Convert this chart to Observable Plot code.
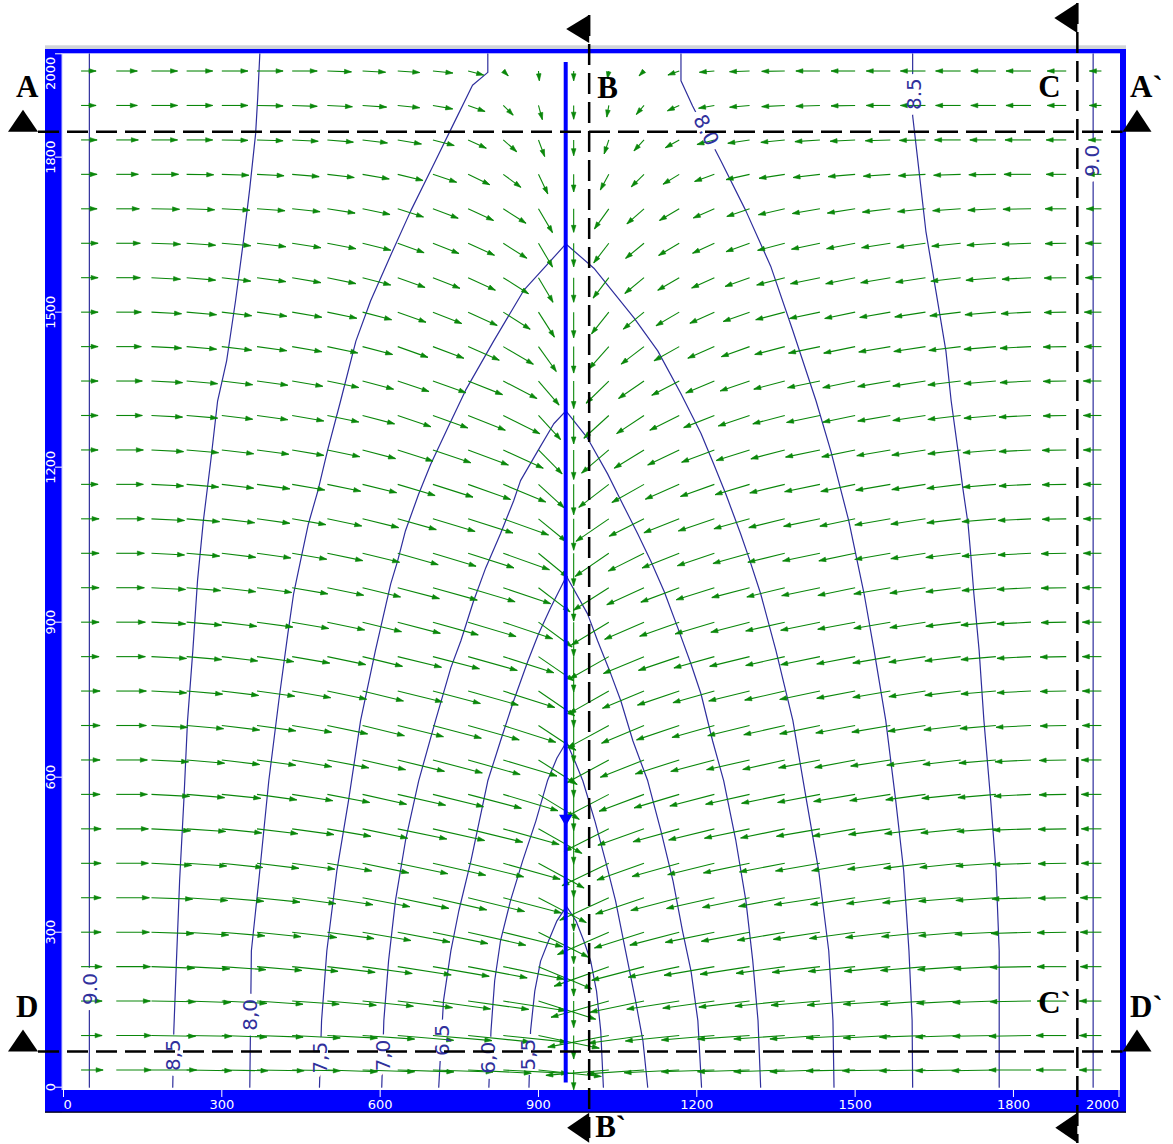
<!DOCTYPE html>
<html><head><meta charset="utf-8">
<script src="https://cdn.jsdelivr.net/npm/d3@7"></script>
<script src="https://cdn.jsdelivr.net/npm/@observablehq/plot@0.6"></script>
<style>
html,body{margin:0;padding:0;background:#fff;}
#chart{position:relative;width:1173px;height:1144px;overflow:hidden;}
#chart svg{position:absolute;left:0;top:0;}
</style></head><body><div id="chart"></div>
<script>
// ---------------- data (model coordinates, metres) ----------------
const xTicks = [0, 300, 600, 900, 1200, 1500, 1800, 2000];
const yTicks = [0, 300, 600, 900, 1200, 1500, 1800, 2000];

// drain (blue line) and cross-section lines
const drainX = 951.6, drainBottom = 8, drainTop = 1983;
const drainMarkY = 520;
const sectionAY = 1848, sectionDY = 68;   // A–A`, D–D`
const sectionBX = 997, sectionCX = 1922;  // B–B`, C–C`

// velocity grid: column centres (x) and row centres (y, top to bottom)
const gridX = [33.3,100,166.7,233.3,300,366.7,433.3,500,566.7,633.3,700,766.7,833.3,900,966.7,
               1033.3,1100,1166.7,1233.3,1300,1366.7,1433.3,1500,1566.7,1633.3,1700,1766.7,1833.3,1900,1966.7];
const gridY = [1966.7,1900,1833.3,1766.7,1700,1633.3,1566.7,1500,1433.3,1366.7,1300,1233.3,1166.7,1100,1033.3,
               966.7,900,833.3,766.7,700,633.3,566.7,500,433.3,366.7,300,233.3,166.7,100,33.3];

// flow direction: degrees below the horizontal (towards the drain), one row per gridY
const angleRows = [
"0 0 0 0 0 0 0 2 3 4 6 15 45 85 90 80 45 20 5 2 1 0 0 0 0 0 0 0 0 0",
"0 0 0 0 0 1 2 3 4 6 10 20 45 75 90 80 50 25 10 5 3 2 1 0 0 0 0 0 0 0",
"0 0 0 0 1 2 3 5 7 10 15 25 42 70 90 72 48 30 15 9 6 4 3 2 1 0 0 0 0 0",
"0 0 0 1 2 3 5 7 10 14 19 26 37 65 90 62 45 32 20 13 9 7 5 4 3 2 1 0 0 0",
"0 0 1 2 3 4 6 9 12 18 21 25 33 60 90 55 42 31 24 19 13 10 9 7 6 4 3 1 0 0",
"0 0 2 4 5 7 9 11 14 20 22 25 33 60 90 53 40 31 25 20 15 12 11 9 8 6 4 2 1 0",
"0 0 3 5 7 8 10 12 15 20 22 25 33 60 90 53 40 31 25 20 15 12 12 10 9 7 5 3 1 0",
"0 0 3 5 7 8 10 12 15 20 22 25 33 58 90 52 40 31 25 20 15 12 12 10 9 7 5 3 1 0",
"0 0 3 5 7 8 10 12 15 20 21 24 31 55 90 49 38 30 24 20 15 12 12 10 9 7 5 3 1 0",
"0 0 3 5 7 8 10 12 15 19 20 22 28 50 90 45 35 28 23 19 15 12 12 10 9 7 5 3 1 0",
"0 0 3 5 7 8 10 12 15 19 20 22 27 48 90 43 34 27 22 19 15 12 12 10 9 7 5 3 1 0",
"0 0 3 5 7 8 10 12 15 18 19 21 25 46 90 41 32 26 21 18 15 12 12 10 9 7 5 3 1 0",
"0 0 3 5 7 8 10 12 14 17 18 20 23 43 90 38 30 24 20 17 14 12 12 10 9 7 5 3 1 0",
"0 0 3 5 7 8 10 12 14 16 17 18 20 40 90 35 27 22 19 16 14 12 12 10 9 7 5 3 1 0",
"0 0 3 5 7 8 10 12 14 16 17 18 20 40 90 35 27 22 19 16 14 12 12 10 9 7 5 3 1 0",
"0 0 3 5 7 8 10 12 14 15 16 17 19 38 90 33 25 21 18 15 14 12 12 10 9 7 5 3 1 0",
"0 0 3 5 7 8 10 12 14 15 16 17 19 37 90 32 24 20 17 15 13 12 11 10 9 7 5 3 1 0",
"0 0 3 5 7 8 10 12 14 14 15 16 18 35 90 30 23 19 16 14 13 12 11 10 9 7 5 3 1 0",
"0 0 3 5 7 8 10 12 14 14 15 16 18 35 90 30 23 19 16 14 13 12 11 10 9 7 5 3 1 0",
"0 0 3 5 7 8 10 12 14 14 15 16 18 34 90 29 23 19 16 14 13 12 11 10 9 7 5 3 1 0",
"0 0 3 5 7 8 10 11 13 14 15 16 17 33 90 29 22 18 15 13 13 11 11 9 8 7 5 3 1 0",
"0 0 3 5 6 8 9 11 13 13 14 15 17 32 90 28 21 17 15 13 12 11 10 9 8 6 5 3 1 0",
"0 0 3 4 6 7 8 10 12 12 13 14 16 30 90 27 20 16 14 12 12 10 10 8 7 6 4 2 1 0",
"0 0 3 4 6 7 8 10 12 12 13 14 16 29 90 26 20 16 14 12 11 10 10 8 7 6 4 2 1 0",
"0 0 2 4 5 6 8 9 11 12 13 14 15 28 90 25 19 15 13 12 11 9 9 8 7 5 4 2 1 0",
"0 0 2 4 5 6 7 8 10 11 12 13 14 27 90 24 18 15 12 11 10 9 8 7 6 5 3 2 1 0",
"0 0 2 3 4 5 6 7 8 9 10 11 12 23 90 20 15 12 10 9 8 7 6 6 5 4 3 1 0 0",
"0 0 1 2 3 4 4 5 6 7 8 8 9 18 90 16 12 9 8 7 6 5 5 4 4 3 2 1 0 0",
"0 0 1 1 2 2 3 3 4 5 5 6 6 12 90 11 8 6 5 4 4 4 3 3 2 2 1 1 0 0",
"0 0 0 1 1 1 1 2 2 2 2 3 3 6 90 5 4 3 2 2 2 2 1 1 1 1 1 0 0 0"
];
// flow speed (arrow length units), one row per gridY
const speedRows = [
"15 21 26 26 26 26 25 24 23 22 20 16 7 10 10 8 7 12 15 20 23 24 24 24 25 25 25 25 19 12",
"15 21 26 26 26 26 25 25 24 22 20 18 14 15 14 12 12 13 16 20 23 24 24 24 25 25 25 25 19 12",
"16 22 26 26 26 26 26 26 25 24 22 20 18 18 16 15 15 16 18 22 24 25 25 25 26 26 26 26 20 13",
"16 22 27 27 27 27 27 27 27 26 25 24 22 22 18 18 18 19 21 24 26 27 27 27 27 27 27 27 20 14",
"16 23 28 28 28 28 28 28 28 27 27 28 27 28 24 25 23 23 23 24 27 28 28 28 28 28 28 28 21 15",
"17 24 29 29 29 29 29 29 29 28 28 29 28 28 24 25 24 24 24 25 28 29 29 29 29 29 29 29 21 16",
"17 24 29 29 29 29 29 29 29 29 29 30 30 29 25 26 25 25 25 26 29 30 30 30 30 30 30 29 22 16",
"17 25 30 30 30 30 30 30 30 30 31 32 32 30 26 28 27 27 27 28 30 31 31 31 31 31 31 30 22 17",
"17 25 30 30 30 30 30 31 31 32 33 34 35 31 27 30 29 29 29 30 31 32 32 32 32 32 32 31 23 17",
"17 26 31 31 31 31 31 32 32 33 35 37 38 32 28 32 31 31 31 31 32 33 33 33 33 33 32 31 23 18",
"17 26 31 31 31 31 32 32 33 35 37 40 41 33 29 34 33 33 33 33 33 34 33 33 33 33 32 32 23 18",
"17 27 32 32 32 32 32 33 34 37 40 43 44 34 30 36 35 35 35 35 35 35 34 34 34 33 33 32 24 18",
"17 27 32 32 32 33 33 34 35 39 42 45 46 35 31 38 37 37 36 36 36 36 35 35 34 34 33 32 24 18",
"18 28 33 33 33 33 34 35 37 40 44 47 48 36 32 40 39 38 38 37 37 37 36 36 35 34 34 33 24 18",
"18 28 33 33 34 34 35 36 38 42 45 48 49 38 33 41 40 40 39 38 38 38 37 36 35 35 34 33 25 18",
"18 28 34 34 34 35 36 37 39 43 46 49 50 40 34 42 41 41 40 39 39 39 38 37 36 35 34 34 25 19",
"18 29 34 35 35 36 37 38 40 44 47 50 52 42 35 44 43 42 41 40 40 40 38 37 36 35 35 34 25 19",
"18 29 35 35 36 37 38 39 41 45 48 51 53 43 36 45 44 43 42 41 40 40 39 38 37 36 35 34 26 19",
"19 30 35 36 37 38 39 40 42 46 49 52 54 44 37 46 45 44 43 42 41 41 39 38 37 36 35 34 26 19",
"19 30 36 37 38 39 40 41 43 47 50 53 55 45 38 47 46 45 44 43 42 41 40 39 38 37 36 35 26 19",
"19 31 37 38 38 39 40 42 44 48 51 54 56 46 38 48 47 46 45 44 43 42 41 40 39 38 37 36 27 20",
"19 31 38 38 39 40 41 43 45 49 52 55 57 48 37 49 48 47 46 45 44 43 42 41 40 39 38 37 27 20",
"20 32 39 39 40 41 42 44 46 50 53 56 58 50 36 50 49 48 47 46 45 44 43 42 41 40 39 38 28 20",
"20 32 40 40 41 42 43 45 47 51 54 57 59 52 35 52 50 49 48 47 46 45 44 43 42 41 40 38 28 20",
"20 33 41 41 42 43 44 46 48 52 55 58 60 54 34 54 51 50 49 48 47 46 45 44 43 42 40 39 28 21",
"20 33 42 42 43 44 45 47 49 53 56 59 61 56 32 56 52 51 50 49 48 47 46 45 44 42 41 40 29 21",
"21 34 43 43 44 45 46 48 50 54 57 60 62 58 30 58 54 52 51 50 49 48 47 46 45 43 42 41 29 21",
"21 34 44 44 45 46 47 49 51 55 58 61 63 60 27 60 55 53 52 51 50 49 48 47 45 44 43 41 29 22",
"21 35 44 45 45 46 48 50 52 56 59 62 64 62 24 62 56 54 53 52 51 50 49 47 46 45 43 42 30 22",
"22 35 45 45 46 47 48 50 52 56 60 63 65 63 20 63 57 55 53 52 51 50 49 48 46 45 44 42 30 22"
];

const c90West = [[49,0],[49,2000]];
const c85West = [[207,0],[209,109],[214,244],[220,399],[228,554],[235,709],[245,844],[254,981],[265,1096],[279,1212],[292,1328],[309,1405],[326,1522],[341,1638],[353,1740],[364,1845],[368,1915],[372,2000]];
const c80West = [[353,0],[356,264],[370,399],[389,593],[408,748],[425,877],[436,955],[449,1018],[464,1090],[482,1154],[500,1231],[525,1328],[554,1444],[582,1522],[620,1610],[658,1696],[700,1783],[737,1860],[775,1939],[804,1964],[804,2000]];
const c75 = [[485,0],[489,129],[499,264],[518,419],[540,554],[563,710],[591,845],[620,974],[633,1018],[648,1077],[673,1148],[696,1206],[728,1276],[762,1349],[815,1444],[872,1542],[952,1632],[1005,1585],[1081,1489],[1126,1425],[1170,1342],[1208,1265],[1232,1206],[1255,1148],[1283,1071],[1299,1024],[1321,955],[1350,845],[1382,710],[1408,554],[1431,419],[1450,264],[1458,129],[1460,0]];
const c70 = [[603,0],[607,129],[616,245],[629,361],[648,477],[673,593],[705,710],[734,812],[753,864],[777,941],[800,1005],[828,1071],[853,1135],[866,1174],[899,1232],[929,1284],[952,1309],[993,1256],[1031,1187],[1050,1148],[1088,1071],[1113,1018],[1138,960],[1164,889],[1189,819],[1208,761],[1230,670],[1251,593],[1274,477],[1293,361],[1306,245],[1316,129],[1321,0]];
const c65 = [[711,0],[720,167],[734,264],[749,341],[772,438],[804,593],[828,670],[853,748],[880,825],[900,877],[923,928],[953,989],[993,916],[1012,864],[1037,800],[1056,748],[1079,670],[1107,593],[1132,496],[1155,399],[1173,302],[1189,225],[1202,129],[1209,0]];
const c60 = [[806,0],[810,109],[817,206],[828,283],[847,361],[870,438],[895,515],[917,593],[935,637],[953,668],[969,631],[984,593],[1007,515],[1027,438],[1046,361],[1065,264],[1084,167],[1098,89],[1107,0]];
const c55 = [[882,0],[885,109],[893,186],[904,244],[919,283],[935,322],[953,350],[971,322],[986,283],[999,244],[1010,186],[1018,109],[1023,0]];
const c80East = [[1170,2000],[1170,1948],[1192,1899],[1246,1792],[1293,1696],[1340,1589],[1382,1464],[1426,1328],[1454,1231],[1488,1096],[1517,955],[1536,845],[1558,710],[1577,554],[1592,419],[1602,264],[1608,129],[1609,0]];
const c85East = [[1609,2000],[1609,1880],[1621,1774],[1634,1657],[1653,1541],[1672,1425],[1682,1328],[1695,1231],[1704,1160],[1714,1090],[1719,1032],[1725,955],[1735,845],[1744,710],[1757,554],[1767,419],[1773,264],[1773,0]];
const c90East = [[1951,0],[1951,2000]];

const contourLabelText = ["9.0","8,5","8,0","7,5","7,0","6,5","6,0","5,5","8.5","9.0","8.0"];
const contourLabelX    = [51, 209, 355, 487, 607, 719, 805, 882, 1612, 1950, 1217];
const contourLabelY    = [190, 62, 140, 57, 61, 91, 57, 63, 1922, 1793, 1852];
const contourLabelAngle= [-90,-90,-90,-90,-90,-90,-90,-90,-90,-90,63];

// ---------------- build tables ----------------
const contours = [c90West,c85West,c80West,c75,c70,c65,c60,c55,c80East,c85East,c90East]
  .map((pts, i) => pts.map(p => ({id: i, x: p[0], y: p[1]}))).flat();
const contourLabels = contourLabelText.map((t, i) => ({text: t, x: contourLabelX[i], y: contourLabelY[i], rotate: contourLabelAngle[i]}));

const vecScale = 1.9; // model metres per speed unit
const arrows = [];
gridY.forEach((y, r) => {
  const ang = angleRows[r].trim().split(/\s+/).map(Number);
  const spd = speedRows[r].trim().split(/\s+/).map(Number);
  gridX.forEach((x, c) => {
    if (!(spd[c] > 0)) return;
    const a = ang[c] * Math.PI / 180;
    const dir = x < drainX ? 1 : -1;
    const vx = ang[c] === 90 ? 0 : dir * Math.cos(a) * spd[c];
    const vy = -Math.sin(a) * spd[c];
    arrows.push({x1: x, y1: y, x2: x + vx * vecScale, y2: y + vy * vecScale,
                 heading: Math.atan2(vx, vy) * 180 / Math.PI});
  });
});

// arrow-head glyph: tip at the origin, pointing up (rotated per arrow)
const headSymbol = {draw(ctx) { ctx.moveTo(0, 0); ctx.lineTo(-2.3, 7); ctx.lineTo(2.3, 7); ctx.closePath(); }};

// ---------------- chart ----------------
const W = 1173, H = 1144;
const navy = "#2e2e9c", green = "#0a870a", blue = "#0000ff";
const labelFont = "DejaVu Sans";
const fmt = d => String(d);

const plot = Plot.plot({
  width: W, height: H,
  marginLeft: 63, marginRight: 54.5, marginTop: 53.3, marginBottom: 57.3,
  x: {domain: [0, 2000]},
  y: {domain: [0, 2000]},
  style: {background: "transparent", overflow: "visible"},
  marks: [
    Plot.line(contours, {x: "x", y: "y", z: "id", stroke: navy, strokeWidth: 1.2}),
    Plot.text(contourLabels, {x: "x", y: "y", text: "text", rotate: "rotate", fill: "white", stroke: "white", strokeWidth: 13,
      strokeLinejoin: "round", fontSize: 20, fontFamily: labelFont, textAnchor: "middle", lineAnchor: "middle"}),
    Plot.link(arrows, {x1: "x1", y1: "y1", x2: "x2", y2: "y2", stroke: green, strokeWidth: 1.1}),
    Plot.dot(arrows, {x: "x2", y: "y2", rotate: "heading", symbol: headSymbol, fill: green, stroke: green, strokeWidth: 0.6}),
    Plot.text(contourLabels, {x: "x", y: "y", text: "text", rotate: "rotate", fill: "#30309c",
      fontSize: 20, fontFamily: labelFont, textAnchor: "middle", lineAnchor: "middle"}),
    Plot.ruleX([drainX], {y1: drainBottom, y2: drainTop, stroke: blue, strokeWidth: 4}),
    Plot.dot([drainMarkY], {x: () => drainX, y: d => d, symbol: "triangle", rotate: 180, r: 4, fill: blue, stroke: blue}),
    // axes
    Plot.axisX({ticks: xTicks.slice(1, -1), tickFormat: fmt, anchor: "bottom", tickSize: 7, tickPadding: 2, dy: 3.3, color: "white",
      fontSize: 13, fontFamily: "DejaVu Sans", label: null}),
    Plot.axisX({ticks: [xTicks[0]], tickFormat: fmt, anchor: "bottom", tickSize: 7, tickPadding: 2, dy: 3.3, color: "white",
      fontSize: 13, fontFamily: "DejaVu Sans", textAnchor: "start", label: null}),
    Plot.axisX({ticks: [xTicks[xTicks.length - 1]], tickFormat: fmt, anchor: "bottom", tickSize: 7, tickPadding: 2, dy: 3.3, color: "white",
      fontSize: 13, fontFamily: "DejaVu Sans", textAnchor: "end", label: null}),
    Plot.axisY({ticks: yTicks, anchor: "left", tickSize: 7, dx: -1, color: "white", tickFormat: () => "", label: null}),
    Plot.text(yTicks.slice(0, -1), {y: d => d, text: fmt, frameAnchor: "left", dx: -13, rotate: -90,
      fill: "white", fontSize: 13, fontFamily: "DejaVu Sans", textAnchor: "middle", lineAnchor: "middle"}),
    Plot.text(yTicks.slice(-1), {y: d => d, text: fmt, frameAnchor: "left", dx: -13, dy: 3, rotate: -90,
      fill: "white", fontSize: 13, fontFamily: "DejaVu Sans", textAnchor: "end", lineAnchor: "middle"})
  ]
});

document.getElementById("chart").appendChild(plot);

// ---------------- frame bars, section lines ----------------
const svg = d3.select(plot);
const sx = plot.scale("x"), sy = plot.scale("y");
const X = v => sx.apply(v), Y = v => sy.apply(v);
const L = X(0), R = X(2000), T = Y(2000), B = Y(0);

const bars = svg.insert("g", ":first-child");
bars.append("rect").attr("x", L - 18).attr("y", T - 8).attr("width", R + 7.5 - (L - 18)).attr("height", 4).attr("fill", "#cfd3d9");
bars.append("rect").attr("x", L - 18).attr("y", T - 4.3).attr("width", R + 7.5 - (L - 18)).attr("height", 4.3).attr("fill", blue);
bars.append("rect").attr("x", L - 18).attr("y", T - 4.3).attr("width", 17).attr("height", B + 25.5 - (T - 4.3)).attr("fill", blue);
bars.append("rect").attr("x", R + 1.5).attr("y", T - 4.3).attr("width", 6).attr("height", B + 25.5 - (T - 4.3)).attr("fill", blue);
bars.append("rect").attr("x", L - 18).attr("y", B + 3.3).attr("width", R + 7.5 - (L - 18)).attr("height", 22.2).attr("fill", blue);
bars.append("line").attr("x1", L - 1).attr("x2", L - 1).attr("y1", T).attr("y2", B + 3.3).attr("stroke", "#c8c8ff").attr("stroke-width", 1);
bars.append("line").attr("x1", L - 18).attr("x2", R + 7.5).attr("y1", B + 25.5).attr("y2", B + 25.5).attr("stroke", "#000").attr("stroke-width", 1.2);

const sec = svg.append("g").attr("text-anchor", "start");
const dash = "21,8";
// horizontal sections
[[sectionAY, "A", "A`"], [sectionDY, "D", "D`"]].forEach(([v, a, b]) => {
  const yy = Y(v);
  sec.append("line").attr("x1", L - 25).attr("x2", R + 4).attr("y1", yy).attr("y2", yy)
    .attr("stroke", "#000").attr("stroke-width", 2.5).attr("stroke-dasharray", dash);
  sec.append("path").attr("d", `M${L - 55},${yy}L${L - 25},${yy}L${L - 40},${yy - 22}Z`).attr("fill", "#000");
  sec.append("path").attr("d", `M${R + 4},${yy}L${R + 33},${yy}L${R + 18.5},${yy - 22}Z`).attr("fill", "#000");
  sec.append("text").attr("x", L - 47).attr("y", yy - 35).text(a);
  sec.append("text").attr("x", R + 11.5).attr("y", yy - 35).text(b);
});
// vertical sections
const xb = X(sectionBX), xc = X(sectionCX);
sec.append("line").attr("x1", xb).attr("x2", xb).attr("y1", 15).attr("y2", H - 1)
  .attr("stroke", "#000").attr("stroke-width", 2.5).attr("stroke-dasharray", dash);
sec.append("line").attr("x1", xc).attr("x2", xc).attr("y1", 3).attr("y2", H - 1)
  .attr("stroke", "#000").attr("stroke-width", 2.5).attr("stroke-dasharray", dash);
sec.append("path").attr("d", `M${xb},15L${xb},43L${xb - 23},29Z`).attr("fill", "#000");
sec.append("path").attr("d", `M${xb},${B + 26}L${xb},${B + 56}L${xb - 22},${B + 41}Z`).attr("fill", "#000");
sec.append("path").attr("d", `M${xc},3L${xc},33L${xc - 23},18Z`).attr("fill", "#000");
sec.append("path").attr("d", `M${xc},${B + 26}L${xc},${B + 56}L${xc - 22},${B + 41}Z`).attr("fill", "#000");
sec.append("text").attr("x", xb + 8).attr("y", T + 45).text("B");
sec.append("text").attr("x", xb + 6).attr("y", B + 50).text("B`");
sec.append("text").attr("x", xc - 39).attr("y", T + 44).text("C");
sec.append("text").attr("x", xc - 39).attr("y", B - 74).text("C`");
sec.selectAll("text").attr("font-family", "Liberation Serif, Times New Roman, serif").attr("font-weight", "bold")
  .attr("font-size", 31).attr("fill", "#000").attr("text-anchor", "start");
</script></body></html>
